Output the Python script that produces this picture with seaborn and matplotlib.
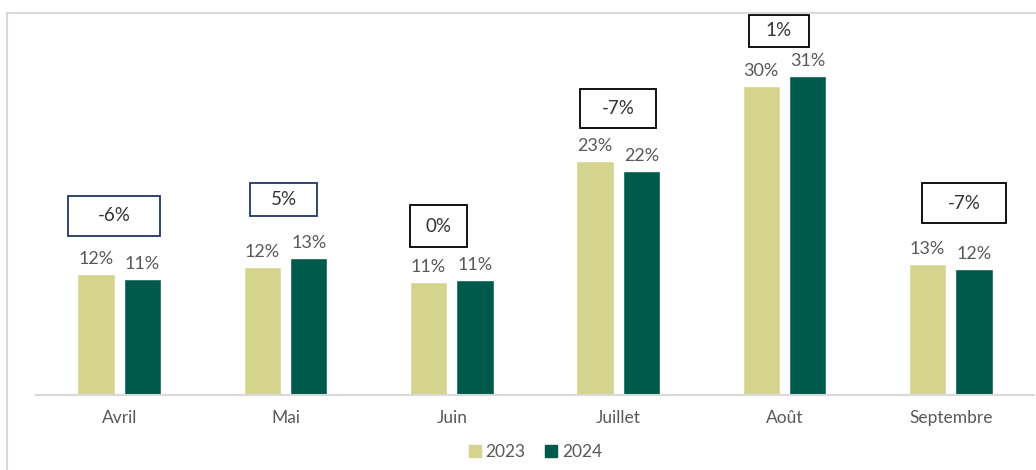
import numpy as np
import pandas as pd
import seaborn as sns
import matplotlib.pyplot as plt
from matplotlib.lines import Line2D
from matplotlib.patches import Rectangle

# Data
months = ["Avril", "Mai", "Juin", "Juillet", "Août", "Septembre"]
years = ["2023", "2024"]
share_2023 = [11.8, 12.5, 11.0, 22.8, 30.1, 12.8]
share_2024 = [11.3, 13.4, 11.2, 21.8, 31.1, 12.3]
labels_2023 = ["12%", "12%", "11%", "23%", "30%", "13%"]
labels_2024 = ["11%", "13%", "11%", "22%", "31%", "12%"]
changes = ["-6%", "5%", "0%", "-7%", "1%", "-7%"]

# Layout of the change boxes (pixel sizes and nudges, as in the original)
box_w = [92, 67, 57, 76, 60, 84]
box_h = [40, 33, 42, 39, 32, 40]
box_dx = [-0.03, -0.01, -0.08, 0.0, -0.035, 0.08]
box_y = [17.45, 19.05, 16.47, 27.9, 35.5, 18.7]
box_edge = ["#1f3864", "#1f3864", "black", "black", "black", "black"]

colors = {"2023": "#d4d48f", "2024": "#005a4b"}

df = pd.DataFrame({
    "month": months * 2,
    "year": [years[0]] * 6 + [years[1]] * 6,
    "share": share_2023 + share_2024,
})

sns.set_theme(style="white")
plt.rcParams["font.family"] = ["Lato", "DejaVu Sans"]

fig = plt.figure(figsize=(10.36, 4.70), dpi=100)
ax = fig.add_axes([36 / 1036, 75 / 470, 998 / 1036, 382 / 470])

sns.barplot(
    data=df, x="month", y="share", hue="year", order=months, hue_order=years,
    palette=colors, width=0.56, gap=0.2, saturation=1, legend=False, ax=ax,
)

ax.set_xlim(-0.5, 5.5)
ax.set_ylim(0, 382 / 10.26)
ax.set_xlabel("")
ax.set_ylabel("")
ax.set_yticks([])
for s in ["top", "left", "right"]:
    ax.spines[s].set_visible(False)
ax.spines["bottom"].set_color("#d9d9d9")
ax.spines["bottom"].set_linewidth(1.5)
ax.tick_params(axis="x", length=0, pad=11, labelsize=12.5, labelcolor="#595959")

# value labels
for cont, labs in zip(ax.containers, [labels_2023, labels_2024]):
    ax.bar_label(cont, labels=labs, padding=5, fontsize=13, color="#595959")

# change boxes
px_x = 998 / 6  # pixels per category
px_y = 10.26    # pixels per percent
for i, txt in enumerate(changes):
    cx = i + box_dx[i]
    cy = box_y[i]
    w = box_w[i] / px_x
    h = box_h[i] / px_y
    ax.add_patch(Rectangle((cx - w / 2, cy - h / 2), w, h, fill=False,
                           edgecolor=box_edge[i], linewidth=1.3, clip_on=False))
    ax.text(cx, cy, txt, ha="center", va="center", fontsize=13.5, color="#333333")

# legend
handles = [Line2D([], [], marker="s", linestyle="", markersize=8,
                  markerfacecolor=colors[y], markeredgecolor=colors[y]) for y in years]
fig.legend(handles, years, loc="center", bbox_to_anchor=(534 / 1036, 1 - 452 / 470),
           ncol=2, frameon=False, fontsize=12.5, labelcolor="#595959",
           handletextpad=0.1, columnspacing=1.0, handlelength=1.0)

# outer frame (left and top edges visible)
fig.add_artist(Line2D([7 / 1036, 7 / 1036], [0, 1 - 13 / 470], color="#d9d9d9", lw=1.5))
fig.add_artist(Line2D([7 / 1036, 1], [1 - 13 / 470, 1 - 13 / 470], color="#d9d9d9", lw=1.5))

fig.savefig("out.png", dpi=100)
